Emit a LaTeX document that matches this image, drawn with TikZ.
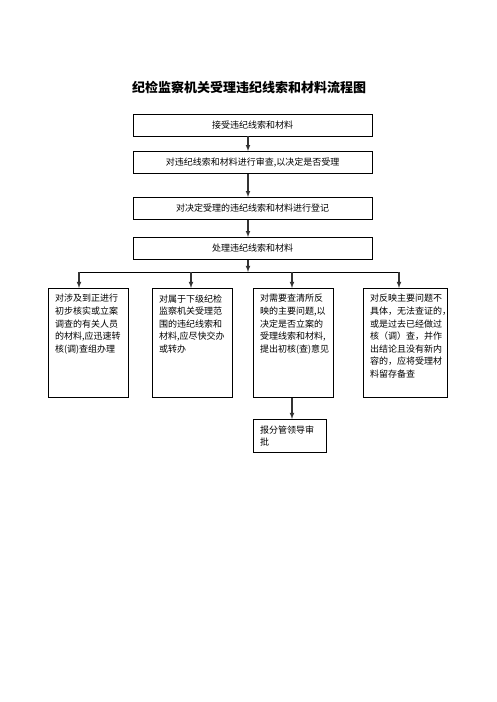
\documentclass[tikz,border=0pt]{standalone}
\usepackage{fontspec}
\setmainfont{Noto Sans CJK SC}
\usepackage{tikz}
\usetikzlibrary{arrows,calc}

\begin{document}
\begin{tikzpicture}[x=1pt, y=-1pt,
    stepbox/.style={draw, line width=0.8pt, minimum width=239pt, minimum height=22pt, inner sep=0pt, font=\fontsize{9}{11}\selectfont},
    sidebox/.style={draw, line width=0.8pt, anchor=north, inner xsep=7pt, inner ysep=6pt, font=\fontsize{9}{12.6}\selectfont},
    flow/.style={-latex, line width=1.1pt, black!80}]
            \useasboundingbox (0,0) rectangle (496,702);

            % Title
            \node[font=\fontsize{13}{15}\selectfont\bfseries] (title) at (249,87) {纪检监察机关受理违纪线索和材料流程图};

            % Main steps
            \node[stepbox] (s1) at (252.5,125) {接受违纪线索和材料};
            \node[stepbox] (s2) at (252.5,162.5) {对违纪线索和材料进行审查,以决定是否受理};
            \node[stepbox] (s3) at (252.5,208.5) {对决定受理的违纪线索和材料进行登记};
            \node[stepbox] (s4) at (252.5,248.5) {处理违纪线索和材料};

            % Spine and branch points
            \coordinate (spine) at (248,0);
            \coordinate (jA) at (79,272);
            \coordinate (jB) at (191,272);
            \coordinate (jC) at (292,272);
            \coordinate (jD) at (399,272);

            % Branches
            \node[sidebox] (bA) at (88,288) {\parbox[t][97pt][t]{66pt}{对涉及到正进行\\初步核实或立案\\调查的有关人员\\的材料,应迅速转\\核(调)查组办理}};
            \node[sidebox] (bB) at (192,288) {\parbox[t][97pt][t]{66pt}{对属于下级纪检\\监察机关受理范\\围的违纪线索和\\材料,应尽快交办\\或转办}};
            \node[sidebox] (bC) at (293,288) {\parbox[t][97pt][t]{66pt}{对需要查清所反\\映的主要问题,以\\决定是否立案的\\受理线索和材料,\\提出初核(查)意见}};
            \node[sidebox] (bD) at (405,288) {\parbox[t][97pt][t]{70pt}{对反映主要问题不\\具体，无法查证的，\\或是过去已经做过\\核（调）查，并作\\出结论且没有新内\\容的，应将受理材\\料留存备查}};
            \node[sidebox] (bE) at (289.5,419) {\parbox[t][21pt][t]{59pt}{报分管领导审\\批}};

            % Connections
            \draw[flow] (s1.south -| spine) -- (s2.north -| spine);
            \draw[flow] (s2.south -| spine) -- (s3.north -| spine);
            \draw[flow] (s3.south -| spine) -- (s4.north -| spine);
            \draw[flow] (s4.south -| spine) -- (spine |- jA);
            \draw[line width=0.9pt] (jA) -- (jD);
            \draw[flow] (jA) -- (bA.north -| jA);
            \draw[flow] (jB) -- (bB.north -| jB);
            \draw[flow] (jC) -- (bC.north -| jC);
            \draw[flow] (jD) -- (bD.north -| jD);
            \draw[flow] (bC.south -| jC) -- (bE.north -| jC);
\end{tikzpicture}
\end{document}
